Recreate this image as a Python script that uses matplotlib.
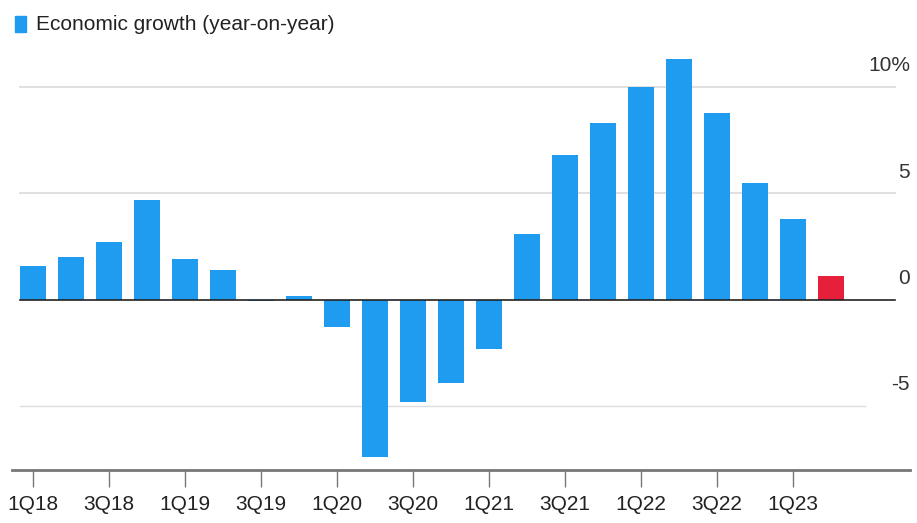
import numpy as np
import matplotlib.pyplot as plt
from matplotlib.patches import Rectangle

plt.rcParams["font.family"] = ["Liberation Sans Narrow", "Liberation Sans", "DejaVu Sans"]

quarters = ["1Q18", "2Q18", "3Q18", "4Q18", "1Q19", "2Q19", "3Q19", "4Q19",
            "1Q20", "2Q20", "3Q20", "4Q20", "1Q21", "2Q21", "3Q21", "4Q21",
            "1Q22", "2Q22", "3Q22", "4Q22", "1Q23", "2Q23"]
growth = [1.6, 2.0, 2.7, 4.7, 1.9, 1.4, -0.05, 0.2,
          -1.3, -7.4, -4.8, -3.9, -2.3, 3.1, 6.8, 8.3,
          10.0, 11.3, 8.8, 5.5, 3.8, 1.1]
y_ticks = [10, 5, 0, -5]
y_labels = ["10%", "5", "0", "-5"]
legend_label = "Economic growth (year-on-year)"

blue = "#1f9bf0"
red = "#e6203a"

W, H = 917, 523
fig = plt.figure(figsize=(W / 100, H / 100), dpi=100)
ax = fig.add_axes([12 / W, (H - 470) / H, 898 / W, (470 - 48.7) / H])

x = np.arange(len(quarters))
colors = [blue] * (len(quarters) - 1) + [red]
ax.bar(x, growth, width=0.68, color=colors, zorder=3)

ax.set_xlim(-0.55, 23.08)
ax.set_ylim(-8, 11.8)

# gridlines, drawn by hand so their lengths match
for v in y_ticks:
    if v == 0:
        ax.axhline(v, xmin=0.009, xmax=0.983, color="#222222", lw=1.2, zorder=4)
    elif v == -5:
        ax.axhline(v, xmin=0.009, xmax=0.95, color="#dddddd", lw=1.0, zorder=1)
    else:
        ax.axhline(v, xmin=0.009, xmax=0.983, color="#dddddd", lw=1.3, zorder=1)

for v, lab in zip(y_ticks, y_labels):
    ax.text(1.0, v + 0.55, lab, transform=ax.get_yaxis_transform(),
            ha="right", va="bottom", fontsize=15, color="#333333")

ax.set_yticks([])
ax.set_xticks(x[::2])
ax.set_xticklabels(quarters[::2], fontsize=15, color="#222222")
ax.tick_params(axis="x", length=12, width=1, color="#777777", pad=6)

for s in ["top", "right", "left"]:
    ax.spines[s].set_visible(False)
ax.spines["bottom"].set_color("#777777")
ax.spines["bottom"].set_linewidth(2)

# legend in the top left corner
fig.patches.append(Rectangle((15 / W, 1 - 32 / H), 11 / W, 16 / H,
                             transform=fig.transFigure, color=blue))
fig.text(36 / W, 1 - 24 / H, legend_label, ha="left", va="center",
         fontsize=15, color="#222222")

plt.savefig("out.png", dpi=100)
